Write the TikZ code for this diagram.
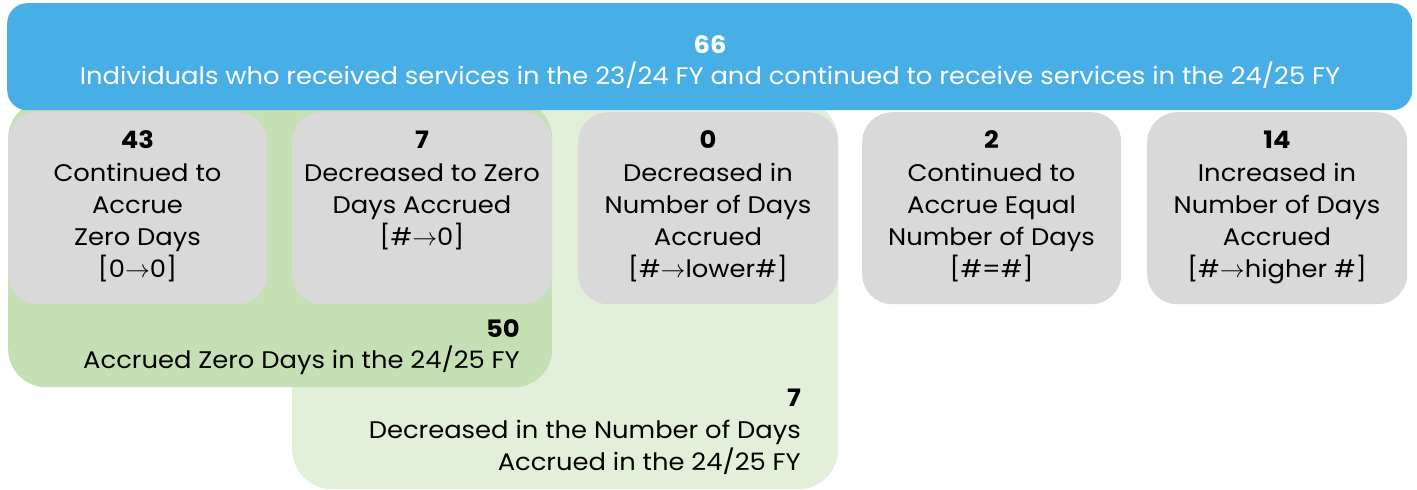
\documentclass[tikz,border=0pt]{standalone}
\usepackage{fontspec}
\setmainfont{Poppins}[FakeStretch=1.075]
\definecolor{topblue}{HTML}{47AFE6}
\definecolor{boxgray}{HTML}{D9D9D9}
\definecolor{darkgreen}{HTML}{C5E0B4}
\definecolor{lightgreen}{HTML}{E2F0D9}
\tikzset{
  panel/.style={draw=none, inner sep=0pt, anchor=north west},
  graybox/.style={panel, fill=boxgray, rounded corners=30pt, minimum width=259pt, minimum height=192pt},
  lbl/.style={anchor=base, inner sep=0pt, font=\fontsize{24}{32}\selectfont},
  num/.style={lbl, font=\fontsize{24}{32}\selectfont\bfseries},
  rlbl/.style={lbl, anchor=base east},
  rnum/.style={num, anchor=base east},
}
\begin{document}
\begin{tikzpicture}[x=1pt,y=-1pt]
\useasboundingbox (0,0) rectangle (1417,490);
% green group panels
\node[panel, fill=lightgreen, rounded corners=40pt, minimum width=546pt, minimum height=389pt] (lg) at (292,100) {};
\node[panel, fill=darkgreen, rounded corners=38pt, minimum width=544pt, minimum height=287pt] (dg) at (8,100) {};
% gray boxes
\node[graybox] (b1) at (8,112) {};
\node[graybox, minimum width=260pt] (b2) at (292,112) {};
\node[graybox, minimum width=260pt] (b3) at (578,112) {};
\node[graybox] (b4) at (862,112) {};
\node[graybox, minimum width=260pt] (b5) at (1147,112) {};
% top blue box
\node[panel, fill=topblue, rounded corners=20pt, minimum width=1405pt, minimum height=107pt] (top) at (7,3) {};
\node[num, text=white] (t66) at (710,53) {66};
\node[lbl, text=white] (ttxt) at (710,84) {Individuals who received services in the 23/24 FY and continued to receive services in the 24/25 FY};
% box 1
\node[num] (n1) at (137.5,148) {43};
\node[lbl] (l1a) at (137.5,181) {Continued to};
\node[lbl] (l1b) at (137.5,213) {Accrue};
\node[lbl] (l1c) at (137.5,245) {Zero Days};
\node[lbl] (l1d) at (137.5,277) {[0$\rightarrow$0]};
% box 2
\node[num] (n2) at (422,148) {7};
\node[lbl] (l2a) at (422,181) {Decreased to Zero};
\node[lbl] (l2b) at (422,213) {Days Accrued};
\node[lbl] (l2c) at (422,245) {[\#$\rightarrow$0]};
% box 3
\node[num] (n3) at (708,148) {0};
\node[lbl] (l3a) at (708,181) {Decreased in};
\node[lbl] (l3b) at (708,213) {Number of Days};
\node[lbl] (l3c) at (708,245) {Accrued};
\node[lbl] (l3d) at (708,277) {[\#$\rightarrow$lower\#]};
% box 4
\node[num] (n4) at (991.5,148) {2};
\node[lbl] (l4a) at (991.5,181) {Continued to};
\node[lbl] (l4b) at (991.5,213) {Accrue Equal};
\node[lbl] (l4c) at (991.5,245) {Number of Days};
\node[lbl] (l4d) at (991.5,277) {[\#=\#]};
% box 5
\node[num] (n5) at (1277,148) {14};
\node[lbl] (l5a) at (1277,181) {Increased in};
\node[lbl] (l5b) at (1277,213) {Number of Days};
\node[lbl] (l5c) at (1277,245) {Accrued};
\node[lbl] (l5d) at (1277,277) {[\#$\rightarrow$higher \#]};
% dark green label
\node[rnum] (n50) at (520,337) {50};
\node[rlbl] (g1) at (520,368) {Accrued Zero Days in the 24/25 FY};
% light green label
\node[rnum] (n7) at (801,406) {7};
\node[rlbl] (g2a) at (801,438) {Decreased in the Number of Days};
\node[rlbl] (g2b) at (801,470) {Accrued in the 24/25 FY};
\end{tikzpicture}
\end{document}
